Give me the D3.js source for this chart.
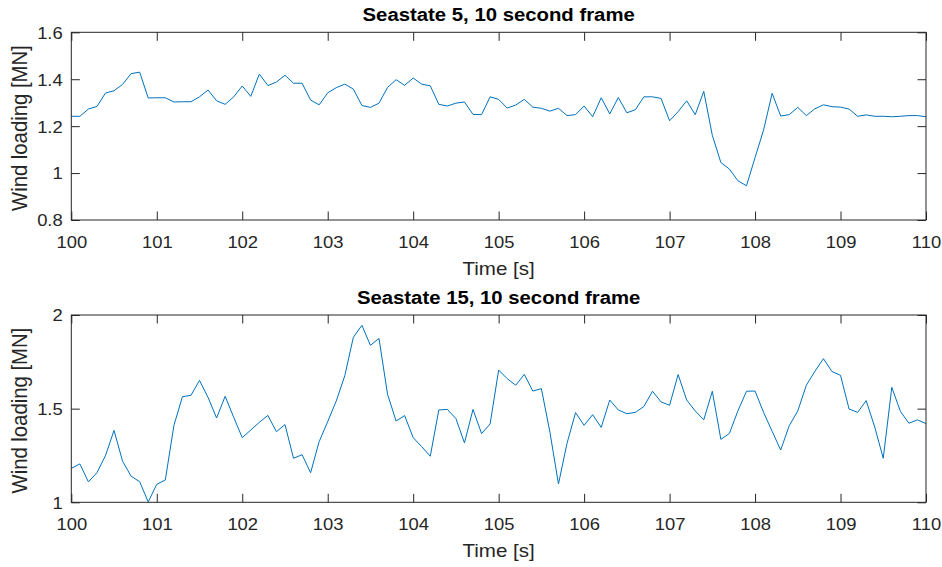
<!DOCTYPE html>
<html>
<head>
<meta charset="utf-8">
<script src="https://cdn.jsdelivr.net/npm/d3@7"></script>
<style>
  html, body { margin: 0; padding: 0; background: #fff; }
  svg { display: block; }
  text { font-family: "Liberation Sans", Arial, Helvetica, sans-serif; }
</style>
</head>
<body>
<svg id="chart" width="942" height="567"></svg>
<script>
// Sampling grid: 101 samples, 0.1 s apart, starting at 100 s
const tStart = 100;
const tStep = 0.1;

// Wind loading [MN], sea state 5
const seastate5 = [
  1.242, 1.242, 1.273, 1.284, 1.341, 1.351, 1.378, 1.424, 1.430, 1.320,
  1.321, 1.321, 1.303, 1.304, 1.304, 1.325, 1.354, 1.308, 1.293, 1.325,
  1.371, 1.327, 1.422, 1.373, 1.388, 1.417, 1.383, 1.383, 1.311, 1.291,
  1.342, 1.364, 1.379, 1.358, 1.288, 1.280, 1.298, 1.365, 1.398, 1.374,
  1.405, 1.379, 1.372, 1.293, 1.286, 1.298, 1.303, 1.250, 1.249, 1.325,
  1.314, 1.277, 1.290, 1.314, 1.281, 1.276, 1.264, 1.276, 1.245, 1.249,
  1.286, 1.240, 1.321, 1.252, 1.322, 1.257, 1.270, 1.325, 1.325, 1.318,
  1.223, 1.262, 1.308, 1.249, 1.348, 1.161, 1.045, 1.017, 0.967, 0.946,
  1.066, 1.184, 1.340, 1.243, 1.249, 1.280, 1.245, 1.274, 1.291, 1.283,
  1.281, 1.273, 1.242, 1.248, 1.242, 1.242, 1.240, 1.242, 1.245, 1.245,
  1.240
];

// Wind loading [MN], sea state 15
const seastate15 = [
  1.181, 1.205, 1.109, 1.158, 1.249, 1.384, 1.219, 1.139, 1.110, 1.002,
  1.096, 1.119, 1.409, 1.564, 1.571, 1.651, 1.560, 1.450, 1.566, 1.454,
  1.345, 1.386, 1.427, 1.464, 1.377, 1.415, 1.235, 1.254, 1.158, 1.324,
  1.431, 1.541, 1.676, 1.881, 1.945, 1.838, 1.875, 1.577, 1.434, 1.463,
  1.345, 1.297, 1.246, 1.493, 1.496, 1.447, 1.317, 1.496, 1.367, 1.418,
  1.706, 1.660, 1.625, 1.683, 1.594, 1.607, 1.374, 1.098, 1.315, 1.479,
  1.411, 1.468, 1.400, 1.546, 1.493, 1.473, 1.480, 1.512, 1.593, 1.536,
  1.518, 1.682, 1.546, 1.488, 1.440, 1.593, 1.336, 1.368, 1.489, 1.593,
  1.594, 1.480, 1.379, 1.279, 1.409, 1.488, 1.625, 1.699, 1.767, 1.698,
  1.678, 1.498, 1.480, 1.543, 1.402, 1.235, 1.614, 1.486, 1.422, 1.440,
  1.420
];

const xTicks = [100, 101, 102, 103, 104, 105, 106, 107, 108, 109, 110];
const yTicks5 = [0.8, 1, 1.2, 1.4, 1.6];
const yTicks15 = [1, 1.5, 2];
const titles = ["Seastate 5, 10 second frame", "Seastate 15, 10 second frame"];
const xLabel = "Time [s]";
const yLabel = "Wind loading [MN]";

const panels = [
  { values: seastate5, yDomain: [0.8, 1.6], yTicks: yTicks5, title: titles[0], top: 32.3, bottom: 220 },
  { values: seastate15, yDomain: [1, 2], yTicks: yTicks15, title: titles[1], top: 315, bottom: 502.3 }
];

const left = 71.3, right = 926;
const axisColor = "#262626";
const lineColor = "#0072BD";
const tickLen = 8.5;
const stretch = 1.13;        // horizontal glyph stretch
const tickFont = 16.3;

const svg = d3.select("#chart");

panels.forEach(p => {
  const x = d3.scaleLinear().domain([100, 110]).range([left, right]);
  const y = d3.scaleLinear().domain(p.yDomain).range([p.bottom, p.top]);
  const g = svg.append("g");
  const fmt = d => String(d);

  // inward ticks on all four sides
  const bottomAxis = g.append("g").attr("transform", `translate(0,${p.bottom})`)
    .call(d3.axisBottom(x).tickValues(xTicks).tickSizeInner(-tickLen).tickSizeOuter(0).tickFormat(fmt));
  const leftAxis = g.append("g").attr("transform", `translate(${left},0)`)
    .call(d3.axisLeft(y).tickValues(p.yTicks).tickSizeInner(-tickLen).tickSizeOuter(0).tickFormat(fmt));
  g.append("g").attr("transform", `translate(0,${p.top})`)
    .call(d3.axisTop(x).tickValues(xTicks).tickSizeInner(-tickLen).tickSizeOuter(0).tickFormat(""));
  g.append("g").attr("transform", `translate(${right},0)`)
    .call(d3.axisRight(y).tickValues(p.yTicks).tickSizeInner(-tickLen).tickSizeOuter(0).tickFormat(""));

  g.selectAll(".domain").remove();
  g.selectAll(".tick line").attr("stroke", axisColor).attr("stroke-width", 1);

  bottomAxis.selectAll("text")
    .attr("y", 28).attr("dy", null)
    .attr("transform", `scale(${stretch},1)`)
    .attr("fill", axisColor).attr("font-size", tickFont)
    .attr("font-family", "Liberation Sans, Arial, sans-serif");
  leftAxis.selectAll("text")
    .attr("x", -8.6 / stretch).attr("dy", "0.36em")
    .attr("transform", `scale(${stretch},1)`)
    .attr("fill", axisColor).attr("font-size", tickFont)
    .attr("font-family", "Liberation Sans, Arial, sans-serif");

  // data line
  const line = d3.line()
    .x((d, i) => x(tStart + i * tStep))
    .y(d => y(d));
  g.append("path")
    .datum(p.values)
    .attr("d", line)
    .attr("fill", "none")
    .attr("stroke", lineColor)
    .attr("stroke-width", 1)
    .attr("stroke-linejoin", "round");

  // axes box
  g.append("rect")
    .attr("x", left).attr("y", p.top)
    .attr("width", right - left).attr("height", p.bottom - p.top)
    .attr("fill", "none").attr("stroke", axisColor).attr("stroke-width", 1);

  // title
  const cx = (left + right) / 2;
  g.append("text")
    .attr("transform", `translate(${cx},${p.top - 11}) scale(${stretch},1)`)
    .attr("text-anchor", "middle")
    .attr("font-weight", "bold")
    .attr("font-size", 18)
    .attr("fill", "#000")
    .text(p.title);

  // x label
  g.append("text")
    .attr("transform", `translate(${cx},${p.bottom + 55}) scale(${stretch},1)`)
    .attr("text-anchor", "middle")
    .attr("font-size", 18.2)
    .attr("fill", axisColor)
    .text(xLabel);

  // y label
  g.append("text")
    .attr("transform", `translate(27,${(p.top + p.bottom) / 2 + 2}) scale(${stretch},1) rotate(-90)`)
    .attr("text-anchor", "middle")
    .attr("font-size", 20.3)
    .attr("fill", axisColor)
    .text(yLabel);
});
</script>
</body>
</html>
